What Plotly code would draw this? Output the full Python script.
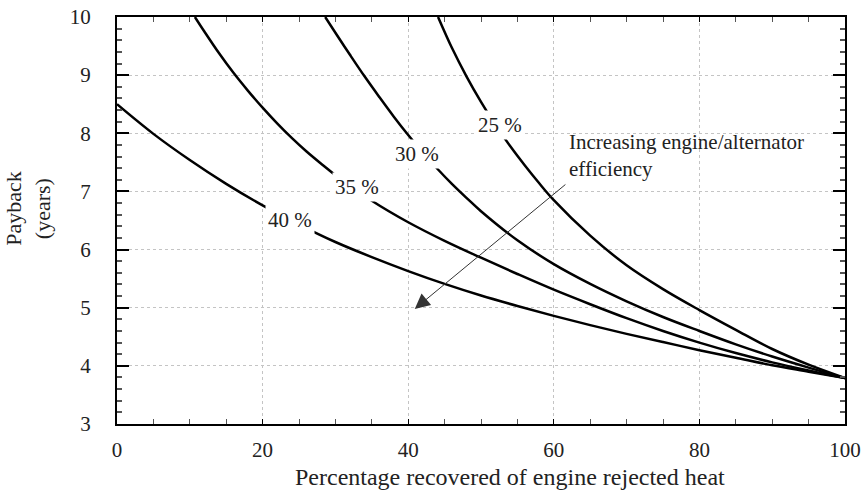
import plotly.graph_objects as go

# ---- data ----
x25 = [44.1, 46, 48, 50, 52, 54, 56, 58, 60, 65, 70, 75, 80, 85, 90, 95, 100]
y25 = [10.0, 9.47, 8.98, 8.54, 8.14, 7.78, 7.45, 7.14, 6.85, 6.24, 5.73, 5.32, 4.96, 4.62, 4.29, 4.02, 3.79]

x30 = [28.6, 30, 32, 34, 36, 38, 40, 42, 44, 46, 48, 50, 55, 60, 65, 70, 75, 80, 85, 90, 95, 100]
y30 = [10.0, 9.73, 9.35, 8.98, 8.63, 8.29, 7.97, 7.67, 7.39, 7.13, 6.89, 6.66, 6.16, 5.75, 5.41, 5.11, 4.84, 4.60, 4.37, 4.16, 3.97, 3.79]

x35 = [10.7, 12, 14, 16, 18, 20, 22, 24, 26, 28, 30, 35, 40, 45, 50, 55, 60, 65, 70, 75, 80, 85, 90, 95, 100]
y35 = [10.0, 9.75, 9.38, 9.04, 8.73, 8.44, 8.17, 7.92, 7.69, 7.48, 7.28, 6.84, 6.47, 6.15, 5.86, 5.58, 5.31, 5.06, 4.82, 4.60, 4.40, 4.22, 4.06, 3.92, 3.79]

x40 = [0, 5, 10, 15, 20, 25, 30, 35, 40, 45, 50, 55, 60, 65, 70, 75, 80, 85, 90, 95, 100]
y40 = [8.50, 7.99, 7.54, 7.13, 6.76, 6.43, 6.13, 5.87, 5.63, 5.41, 5.21, 5.03, 4.86, 4.70, 4.55, 4.41, 4.27, 4.14, 4.01, 3.90, 3.79]

series = [("25 %", x25, y25), ("30 %", x30, y30), ("35 %", x35, y35), ("40 %", x40, y40)]

# curve label positions (data coords)
label_text = ["25 %", "30 %", "35 %", "40 %"]
label_x = [52.6, 41.2, 33.0, 23.8]
label_y = [8.14, 7.64, 7.07, 6.51]

x_ticks = [0, 20, 40, 60, 80, 100]
y_ticks = [3, 4, 5, 6, 7, 8, 9, 10]

FONT = "Liberation Serif"
TXT = "#222222"

fig = go.Figure()
for name, xs, ys in series:
    fig.add_trace(go.Scatter(x=xs, y=ys, mode="lines", name=name,
                             line=dict(color="black", width=2.5, shape="spline", smoothing=1.0),
                             showlegend=False, hoverinfo="skip"))

annotations = []
for t, lx, ly in zip(label_text, label_x, label_y):
    annotations.append(dict(x=lx, y=ly, xref="x", yref="y", text=t, showarrow=False,
                            font=dict(family=FONT, size=21, color=TXT),
                            bgcolor="white", borderpad=2))

# arrow
annotations.append(dict(x=40.9, y=4.98, ax=61.8, ay=7.14, xref="x", yref="y",
                        axref="x", ayref="y", text="", showarrow=True,
                        arrowhead=2, arrowsize=3, arrowwidth=1, arrowcolor="#333333"))
annotations.append(dict(x=61.8, y=7.61, xref="x", yref="y",
                        text="Increasing engine/alternator<br>efficiency",
                        showarrow=False, xanchor="left", yanchor="middle", align="left",
                        font=dict(family=FONT, size=21, color=TXT)))
# axis titles
annotations.append(dict(x=0.54, y=-0.130, xref="paper", yref="paper",
                        text="Percentage recovered of engine rejected heat", showarrow=False,
                        xanchor="center", yanchor="middle",
                        font=dict(family=FONT, size=24, color=TXT)))
annotations.append(dict(x=-0.1223, y=0.531, xref="paper", yref="paper",
                        text="Payback<br>(years)", showarrow=False, textangle=-90,
                        xanchor="center", yanchor="middle",
                        font=dict(family=FONT, size=22, color=TXT)))

fig.update_layout(
    width=865, height=494,
    margin=dict(l=117, r=20, t=17, b=70),
    paper_bgcolor="white", plot_bgcolor="white",
    font=dict(family=FONT, size=21, color=TXT),
    annotations=annotations,
)
fig.update_xaxes(range=[0, 100], tickvals=x_ticks, ticktext=[str(v) for v in x_ticks],
                 automargin=False,
                 showline=True, linecolor="black", linewidth=2, mirror="allticks",
                 ticks="inside", ticklen=5, tickcolor="black", tickwidth=1,
                 showgrid=True, gridcolor="#c4c4c4", griddash="dot", gridwidth=1,
                 zeroline=False, ticklabelstandoff=6,
                 tickfont=dict(family=FONT, size=21, color=TXT),
                 minor=dict(dtick=5, ticks="inside", ticklen=5, tickcolor="#555555", showgrid=False))
fig.update_yaxes(range=[3, 10], tickvals=y_ticks, ticktext=[str(v) for v in y_ticks],
                 automargin=False,
                 showline=True, linecolor="black", linewidth=2, mirror="allticks",
                 ticks="inside", ticklen=12, tickcolor="black", tickwidth=1.5,
                 showgrid=True, gridcolor="#c4c4c4", griddash="dot", gridwidth=1,
                 zeroline=False, ticklabelstandoff=20,
                 tickfont=dict(family=FONT, size=21, color=TXT),
                 minor=dict(dtick=0.2, ticks="inside", ticklen=5, tickcolor="#555555", showgrid=False))

fig.write_html("out.html", config={"displayModeBar": False},
               post_script="document.body.style.margin='0';document.body.style.padding='0';")
